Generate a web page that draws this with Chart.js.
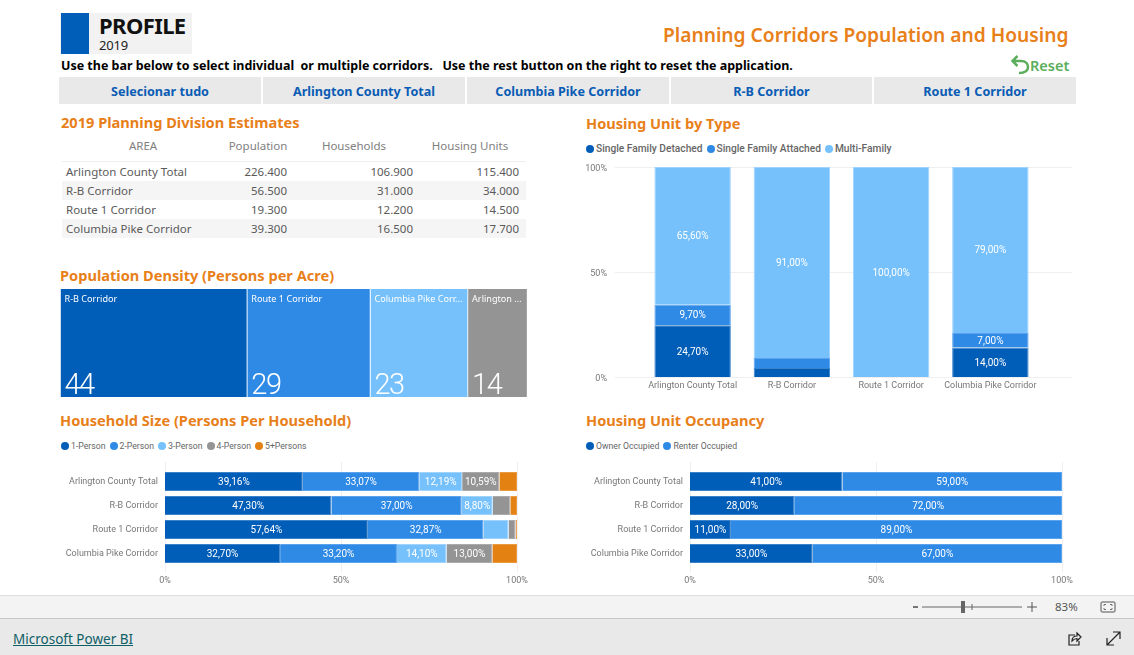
<!DOCTYPE html>
<html><head><meta charset="utf-8"><title>Planning Corridors Population and Housing</title>
<script src="https://cdn.jsdelivr.net/npm/chart.js@4"></script>
<style>
html,body{margin:0;padding:0;background:#fff;width:1134px;height:655px;overflow:hidden;font-family:"Noto Sans",sans-serif}
.abs{position:absolute;white-space:pre;line-height:1}
canvas{position:absolute}
.sec{color:#E8801A;font-weight:700;font-size:14.6px}
.cell{position:absolute;top:77px;height:27px;background:#E9E9E9;color:#0A5CB4;font-weight:700;font-size:12.6px;line-height:29px;text-align:center}
.legend{position:absolute;font-family:Roboto,sans-serif;font-size:8.7px;color:#666;white-space:pre;line-height:12px;display:flex}
.legend span.i{display:flex;align-items:center;margin-right:4px}
.legend b{display:inline-block;width:8px;height:8px;border-radius:50%;margin-right:2px}
#tbl div{position:absolute;white-space:pre;font-size:11.5px;line-height:19px;color:#5a5a5a}
</style></head><body>
<div class="abs" style="left:60px;top:13px;width:132px;height:41px;background:#F2F2F2"></div>
<div class="abs" style="left:61px;top:13px;width:28px;height:41px;background:#005DB8"></div>
<div class="abs" style="left:99px;top:14px;font-size:22px;font-weight:700;letter-spacing:-.6px;color:#111">PROFILE</div>
<div class="abs" style="left:99px;top:39px;font-size:13px;letter-spacing:-.2px;color:#222">2019</div>
<div class="abs" style="left:663px;top:24.500px;font-size:19.2px;font-weight:600;color:#E8801A">Planning Corridors Population and Housing</div>
<div class="abs" style="left:61px;top:60px;font-size:12.47px;font-weight:700;color:#000">Use the bar below to select individual  or multiple corridors.   Use the rest button on the right to reset the application.</div>
<svg class="abs" style="left:1010px;top:54px" width="20" height="22" viewBox="0 0 20 22"><path d="M7.500 2 L2.500 7 L7.500 12 M2.500 7 H11 C16 7 18 10 18 13 C18 17 15 19 9 19" fill="none" stroke="#5CAE5C" stroke-width="2.5"/></svg>
<div class="abs" style="left:1030px;top:58px;font-size:14.5px;font-weight:600;color:#5CAE5C">Reset</div>
<div id="slicer"></div>
<div class="abs sec" style="left:61px;top:115px">2019 Planning Division Estimates</div>
<div id="tbl"></div>
<div class="abs sec" style="left:60px;top:268px">Population Density (Persons per Acre)</div>
<canvas id="cDensity" width="475" height="112" style="left:56px;top:287px"></canvas>
<div class="abs sec" style="left:586px;top:116px">Housing Unit by Type</div>
<div class="legend" id="lgType" style="left:586px;top:143px;font-weight:500;font-size:10.200px"></div>
<canvas id="cType" width="500" height="240" style="left:580px;top:155px"></canvas>
<div class="abs sec" style="left:60px;top:413px">Household Size (Persons Per Household)</div>
<div class="legend" id="lgSize" style="left:61px;top:440px"></div>
<canvas id="cSize" width="475" height="140" style="left:60px;top:455px"></canvas>
<div class="abs sec" style="left:586px;top:413px">Housing Unit Occupancy</div>
<div class="legend" id="lgOcc" style="left:586px;top:440px"></div>
<canvas id="cOcc" width="500" height="140" style="left:585px;top:455px"></canvas>
<div class="abs" style="left:0;top:595px;width:1134px;height:22px;background:#F3F3F3;border-top:1px solid #DDD"></div>
<div class="abs" style="left:0;top:618px;width:1134px;height:37px;background:#E9E9E9;border-top:1px solid #C8C8C8"></div>
<div class="abs" style="left:13px;top:633px;font-size:13.5px;color:#0F5F66;text-decoration:underline">Microsoft Power BI</div>
<svg class="abs" style="left:905px;top:596px" width="229" height="22">
<path d="M8 11H13" stroke="#555" stroke-width="1.6"/><path d="M17 11H117" stroke="#666"/><rect x="56" y="5" width="4" height="12" fill="#666"/><path d="M67 8V14" stroke="#666"/>
<path d="M122 11H132M127 6V16" stroke="#555"/><rect x="196" y="6" width="14" height="10" rx="1" fill="none" stroke="#555"/><path d="M199 10V8.500H201M205 8.500H207V10M207 12V13.500H205M201 13.500H199V12" fill="none" stroke="#555" stroke-width=".8"/></svg>
<div class="abs" style="left:1055px;top:601px;font-size:11.5px;color:#555">83%</div>
<svg class="abs" style="left:1066px;top:630px" width="60" height="18" fill="none" stroke="#222" stroke-width="1.2">
<path d="M9 5H3V15H13V11"/><path d="M6 11C6 8 8 6 11 6V3L15 7L11 11V8.500C9 8.500 7.500 9.500 6 11Z"/>
<path d="M41 15L54 2M47 2H54V9M41 8V15H48"/></svg>
<script>
const areasOrder = ['Arlington County Total','R-B Corridor','Route 1 Corridor','Columbia Pike Corridor'];
const slicerItems = ['Selecionar tudo','Arlington County Total','Columbia Pike Corridor','R-B Corridor','Route 1 Corridor'];
const tableHeaders = ['AREA','Population','Households','Housing Units'];
const tableAreas = areasOrder;
const tablePopulation = ['226.400','56.500','19.300','39.300'];
const tableHouseholds = ['106.900','31.000','12.200','16.500'];
const tableHousing = ['115.400','34.000','14.500','17.700'];

const densityAreas = ['R-B Corridor','Route 1 Corridor','Columbia Pike Corridor','Arlington County Total'];
const densityValues = [44,29,23,14];

const typeNames = ['Single Family Detached','Single Family Attached','Multi-Family'];
const typeDetached = [24.7,4.3,0,14];
const typeAttached = [9.7,4.7,0,7];
const typeMulti = [65.6,91,100,79];

const sizeNames = ['1-Person','2-Person','3-Person','4-Person','5+Persons'];
const size1 = [39.16,47.30,57.64,32.70];
const size2 = [33.07,37.00,32.87,33.20];
const size3 = [12.19,8.80,7.10,14.10];
const size4 = [10.59,5.00,2.00,13.00];
const size5 = [4.99,1.90,0.39,7.00];

const occNames = ['Owner Occupied','Renter Occupied'];
const occOwner = [41,28,11,33];
const occRenter = [59,72,89,67];

const DARK='#005DB8',MID='#2F8AE6',LIGHT='#76C1FC',GREY='#949494',ORANGE='#E38213';
const EDGE={[DARK]:'#3A82CA',[MID]:'#5BA3EC',[LIGHT]:'#A0D3FD',[GREY]:'#ABABAB',[ORANGE]:'#E99A42'};
const FONT='"Noto Sans",sans-serif', AXFONT='Roboto,sans-serif';
Chart.defaults.font.family=AXFONT;
Chart.defaults.animation=false;
Chart.defaults.responsive=false;
Chart.defaults.devicePixelRatio=1;
Chart.defaults.plugins.legend.display=false;
Chart.defaults.plugins.tooltip.enabled=false;

// slicer
const cellX=[59,263,467,671,874],cellW=[202,202,202,201,202];
slicerItems.forEach((t,i)=>{const d=document.createElement('div');d.className='cell';d.style.left=cellX[i]+'px';d.style.width=cellW[i]+'px';d.textContent=t;document.getElementById('slicer').appendChild(d);});

// table
const tbl=document.getElementById('tbl');
function cell(txt,st){const d=document.createElement('div');d.textContent=txt;Object.assign(d.style,st);tbl.appendChild(d);}
[[181],[219]].forEach(([y])=>cell('',{left:'62px',top:y+'px',width:'464px',height:'19px',background:'#F5F5F5'}));
cell('',{left:'62px',top:'161px',width:'464px',height:'1px',background:'#EEE'});
const headC=[143,258,354,470];
tableHeaders.forEach((h,i)=>cell(h,{left:(headC[i]-60)+'px',width:'120px',textAlign:'center',top:'136px',color:'#808080'}));
tableAreas.forEach((a,i)=>{const top=(162+19*i)+'px';
 cell(a,{left:'66px',top});
 [[tablePopulation,287],[tableHouseholds,413],[tableHousing,519]].forEach(([arr,r])=>cell(arr[i],{left:(r-80)+'px',width:'80px',textAlign:'right',top}));
});

function legend(id,names,colors){const el=document.getElementById(id);names.forEach((n,i)=>{const s=document.createElement('span');s.className='i';const b=document.createElement('b');b.style.background=colors[i];s.appendChild(b);s.appendChild(document.createTextNode(n));el.appendChild(s);});}
legend('lgType',typeNames,[DARK,MID,LIGHT]);
legend('lgSize',sizeNames,[DARK,MID,LIGHT,GREY,ORANGE]);
legend('lgOcc',occNames,[DARK,MID]);

const fmt=v=>v.toFixed(2).replace('.',',')+'%';
const valueLabels=(minV)=>({id:'valueLabels',afterDatasetsDraw(ch){const c=ch.ctx;c.save();c.fillStyle='#fff';c.font='10px '+AXFONT;c.textAlign='center';c.textBaseline='middle';
 ch.data.datasets.forEach((ds,di)=>{ch.getDatasetMeta(di).data.forEach((el,i)=>{const v=ds.data[i];if(v<minV)return;const p=el.getCenterPoint();c.fillText(fmt(v),p.x,p.y+1);});});c.restore();}});
// grid lines run a little past the plot, as in the reference
const gridExt=(ax,a,b)=>({id:'gridExt',beforeDatasetsDraw(ch){const c=ch.ctx,s=ch.scales[ax];c.save();c.strokeStyle='#EFEFEF';c.lineWidth=1;
 s.ticks.forEach(t=>{const p=Math.round(s.getPixelForValue(t.value))+.5;c.beginPath();if(ax==='x'){c.moveTo(p,ch.chartArea.top-a);c.lineTo(p,ch.chartArea.bottom+b);}else{c.moveTo(ch.chartArea.left-a,p);c.lineTo(ch.chartArea.right+b,p);}c.stroke();});c.restore();}});
const ds=(label,data,color)=>({label,data,backgroundColor:color,borderColor:EDGE[color],borderWidth:1,barPercentage:.79,categoryPercentage:1});
const fixed=(w,h)=>s=>{if(w!=null)s.width=w;if(h!=null)s.height=h;s.paddingLeft=s.paddingRight=s.paddingTop=s.paddingBottom=0;};
const noGrid={display:false,drawTicks:false};

function hChart(id,datasets,yW,right,minV){
 return new Chart(document.getElementById(id),{type:'bar',data:{labels:areasOrder,datasets},
 options:{indexAxis:'y',layout:{padding:{top:14.5,right}},
 scales:{x:{stacked:true,min:0,max:100,grid:noGrid,border:{display:false},
   afterFit:fixed(null,29.5),
   ticks:{stepSize:50,padding:10,maxRotation:0,color:'#777',font:{size:9},callback:v=>v+'%'}},
  y:{stacked:true,grid:noGrid,border:{display:false},afterFit:fixed(yW,null),
   ticks:{autoSkip:false,padding:7,color:'#777',font:{size:9}}}}},
 plugins:[gridExt('x',7.5,6.5),valueLabels(minV)]});
}
hChart('cSize',[ds(sizeNames[0],size1,DARK),ds(sizeNames[1],size2,MID),ds(sizeNames[2],size3,LIGHT),ds(sizeNames[3],size4,GREY),ds(sizeNames[4],size5,ORANGE)],105,18,8);
hChart('cOcc',[ds(occNames[0],occOwner,DARK),ds(occNames[1],occRenter,MID)],105,23,8);

new Chart(document.getElementById('cType'),{type:'bar',data:{labels:areasOrder,datasets:[
  Object.assign(ds(typeNames[0],typeDetached,DARK),{barPercentage:.77}),
  Object.assign(ds(typeNames[1],typeAttached,MID),{barPercentage:.77}),
  Object.assign(ds(typeNames[2],typeMulti,LIGHT),{barPercentage:.77})]},
 options:{layout:{padding:{top:12,right:40}},
 scales:{x:{stacked:true,grid:noGrid,border:{display:false},afterFit:fixed(null,18),
   ticks:{autoSkip:false,maxRotation:0,padding:3,color:'#777',font:{size:9}}},
  y:{stacked:true,min:0,max:100,grid:noGrid,border:{display:false},afterFit:fixed(63,null),
   ticks:{stepSize:50,padding:36,color:'#777',font:{size:9,lineHeight:'4px'},callback:v=>['',v+'%']}}}},
 plugins:[gridExt('y',28,32),valueLabels(7)]});

// treemap strip: one stacked row, each segment's width follows its value
const densityColors=[DARK,MID,LIGHT,GREY];
const densityTotal=densityValues.reduce((a,b)=>a+b,0);
new Chart(document.getElementById('cDensity'),{type:'bar',
 data:{labels:['Density'],datasets:densityAreas.map((n,i)=>({label:n,data:[densityValues[i]],backgroundColor:densityColors[i],borderColor:'#fff',borderWidth:{right:1,left:0,top:0,bottom:0},barPercentage:1,categoryPercentage:1,borderSkipped:false}))},
 options:{indexAxis:'y',layout:{padding:{left:4.5,right:3.5,top:2,bottom:2}},
 scales:{x:{stacked:true,display:false,min:0,max:densityTotal},y:{stacked:true,display:false}}},
 plugins:[{id:'treeLabels',afterDatasetsDraw(ch){const c=ch.ctx;c.save();c.fillStyle='#fff';c.textAlign='left';
  ch.data.datasets.forEach((d,i)=>{const el=ch.getDatasetMeta(i).data[0],l=Math.min(el.x,el.base),w=Math.abs(el.x-el.base),t=ch.chartArea.top,b=ch.chartArea.bottom;
   c.font='9.1px '+FONT;c.textBaseline='middle';let s=d.label;const max=w-9;
   if(c.measureText(s).width>max){while(s.length&&c.measureText(s+'...').width>max)s=s.slice(0,-1);s=s+'...';}
   c.fillText(s,l+4,t+10);
   c.font='300 29px '+AXFONT;c.letterSpacing='-1.5px';c.textBaseline='alphabetic';c.fillText(String(d.data[0]),l+4,b-3);c.letterSpacing='0px';});c.restore();}}]});
</script>
</body></html>
